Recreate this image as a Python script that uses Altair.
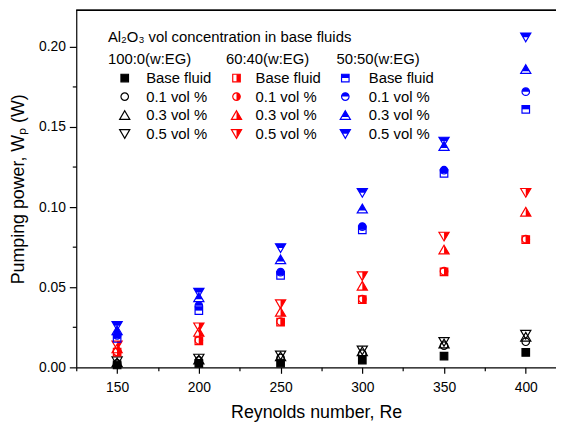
import altair as alt
import pandas as pd

# ---------------- data ----------------
re_values = [150, 200, 250, 300, 350, 400]

w_black_base = [0.0015, 0.0025, 0.0027, 0.0045, 0.0070, 0.0093]
w_black_01 = [0.0025, 0.0043, 0.0059, 0.0086, 0.0136, 0.0160]
w_black_03 = [0.0030, 0.0048, 0.0068, 0.0099, 0.0148, 0.0190]
w_black_05 = [0.0039, 0.0056, 0.0076, 0.0107, 0.0160, 0.0205]

w_red_base = [0.0095, 0.0165, 0.0282, 0.0422, 0.0596, 0.0797]
w_red_01 = [0.0097, 0.0169, 0.0286, 0.0426, 0.0600, 0.0800]
w_red_03 = [0.0117, 0.0220, 0.0345, 0.0508, 0.0734, 0.0970]
w_red_05 = [0.0138, 0.0251, 0.0395, 0.0570, 0.0817, 0.1090]

w_blue_base = [0.0180, 0.0354, 0.0574, 0.0858, 0.1210, 0.1610]
w_blue_01 = [0.0200, 0.0385, 0.0594, 0.0878, 0.1230, 0.1720]
w_blue_03 = [0.0230, 0.0436, 0.0673, 0.0990, 0.1380, 0.1860]
w_blue_05 = [0.0260, 0.0467, 0.0745, 0.1090, 0.1410, 0.2060]

x_major = [150, 200, 250, 300, 350, 400]
x_minor = [125, 175, 225, 275, 325, 375]
y_major = [0.0, 0.05, 0.10, 0.15, 0.20]
y_minor = [0.025, 0.075, 0.125, 0.175]

legend_header = "Al\u2082O\u2083 vol concentration in base fluids"
column_titles = ["100:0(w:EG)", "60:40(w:EG)", "50:50(w:EG)"]
row_labels = ["Base fluid", "0.1 vol %", "0.3 vol %", "0.5 vol %"]

# ---------------- marker shapes (SVG paths in unit box) ----------------
SQ = "M-1,-1L1,-1L1,1L-1,1Z"
CI = "M-1,0A1,1 0 1,1 1,0A1,1 0 1,1 -1,0Z"
TU = "M0,-1.2L1.35,1.1L-1.35,1.1Z"
TD = "M0,1.2L1.35,-1.1L-1.35,-1.1Z"
# right-half fills (red)
SQ_R = "M0,-1L1,-1L1,1L0,1Z"
CI_R = "M0,-1A1,1 0 0,1 0,1Z"
TU_R = "M0,-1.2L1.35,1.1L0,1.1Z"
TD_R = "M0,1.2L1.35,-1.1L0,-1.1Z"
# top-half fills (blue)
SQ_T = "M-1,-1L1,-1L1,0L-1,0Z"
CI_T = "M-1,0A1,1 0 0,1 1,0Z"
TU_T = "M0,-1.2L1,0.5L-1,0.5Z"
TD_T = "M-1.35,-1.1L1.35,-1.1L0.704,0L-0.704,0Z"

BLACK, RED, BLUE = "#000000", "#FF0000", "#0000FF"

# key, values, color, outline, fill, legend column, legend row
series = [
    ("k0", w_black_base, BLACK, SQ, SQ, 0, 0),
    ("k1", w_black_01, BLACK, CI, None, 0, 1),
    ("k2", w_black_03, BLACK, TU, None, 0, 2),
    ("k3", w_black_05, BLACK, TD, None, 0, 3),
    ("r0", w_red_base, RED, SQ, SQ_R, 1, 0),
    ("r1", w_red_01, RED, CI, CI_R, 1, 1),
    ("r2", w_red_03, RED, TU, TU_R, 1, 2),
    ("r3", w_red_05, RED, TD, TD_R, 1, 3),
    ("b0", w_blue_base, BLUE, SQ, SQ_T, 2, 0),
    ("b1", w_blue_01, BLUE, CI, CI_T, 2, 1),
    ("b2", w_blue_03, BLUE, TU, TU_T, 2, 2),
    ("b3", w_blue_05, BLUE, TD, TD_T, 2, 3),
]

keys = [s[0] for s in series]
colors = [s[2] for s in series]
outlines = [s[3] for s in series]
fill_series = [s for s in series if s[4] is not None]
fill_keys = [s[0] for s in fill_series]
fill_paths = [s[4] for s in fill_series]
fill_colors = [s[2] for s in fill_series]

rows = []
for key, vals, col, o, f, c, r in series:
    for re_v, w in zip(re_values, vals):
        rows.append({"key": key, "Re": re_v, "W": w, "hasfill": f is not None})
df = pd.DataFrame(rows)
df_fill = df[df["hasfill"]]

# ---------------- layout constants (pixels within plot area) ----------------
W, H = 485, 361
X_DOM = [125, 418.5]
Y_DOM = [0, 0.2228]
FONT = "Liberation Sans, Arial, Helvetica, sans-serif"

LEG_MARK_X = [49, 162, 272]
LEG_TEXT_X = [70.7, 181.3, 295.7]
LEG_HEAD_X = [32, 151.3, 263]
ROW0, ROW_STEP, MARK_DY = 73.7, 18.8, 5.2

leg_rows = []
for key, vals, col, o, f, c, r in series:
    base = ROW0 + ROW_STEP * r
    leg_rows.append({"key": key, "mx": LEG_MARK_X[c], "my": base - MARK_DY,
                     "tx": LEG_TEXT_X[c], "ty": base, "label": row_labels[r],
                     "hasfill": f is not None})
leg = pd.DataFrame(leg_rows)
leg_fill = leg[leg["hasfill"]]

head_rows = [{"tx": LEG_HEAD_X[0], "ty": 32, "label": legend_header}]
for i, t in enumerate(column_titles):
    head_rows.append({"tx": LEG_HEAD_X[i], "ty": 54.7, "label": t})
heads = pd.DataFrame(head_rows)

xs = alt.Scale(domain=X_DOM, nice=False, zero=False)
ys = alt.Scale(domain=Y_DOM, nice=False, zero=False)
lxs = alt.Scale(domain=[0, W], nice=False, zero=False)
lys = alt.Scale(domain=[0, H], nice=False, zero=False, reverse=True)

common_axis = dict(grid=False, domainColor="black", tickColor="black",
                   labelColor="black", titleColor="black", labelFont=FONT,
                   titleFont=FONT, labelFontSize=14, titleFontSize=18,
                   titleFontWeight="normal", tickWidth=1.2, domainWidth=1.2,
                   labelFlush=False)

x_axis = alt.Axis(values=x_major, tickSize=6, labelPadding=7, titlePadding=10,
                  title="Reynolds number, Re", orient="bottom", **common_axis)
y_axis = alt.Axis(values=y_major, format=".2f", tickSize=7, labelPadding=4,
                  titlePadding=11, title="Pumping power, W\u209a (W)",
                  orient="left", **common_axis)
x_axis_minor = alt.Axis(values=x_minor, tickSize=3.5, labels=False, domain=False,
                        title=None, orient="bottom", grid=False,
                        tickColor="black", tickWidth=1.2)
y_axis_minor = alt.Axis(values=y_minor, tickSize=4, labels=False, domain=False,
                        title=None, orient="left", grid=False,
                        tickColor="black", tickWidth=1.2)

MSIZE = 58

fill_layer = alt.Chart(df_fill).mark_point(filled=True, size=MSIZE, strokeWidth=0, opacity=1).encode(
    x=alt.X("Re:Q", scale=xs, axis=x_axis_minor),
    y=alt.Y("W:Q", scale=ys, axis=y_axis_minor),
    shape=alt.Shape("key:N", scale=alt.Scale(domain=fill_keys, range=fill_paths), legend=None),
    color=alt.Color("key:N", scale=alt.Scale(domain=fill_keys, range=fill_colors), legend=None),
)

outline_layer = alt.Chart(df).mark_point(filled=False, size=MSIZE, strokeWidth=1.2, opacity=1).encode(
    x=alt.X("Re:Q", scale=xs, axis=x_axis),
    y=alt.Y("W:Q", scale=ys, axis=y_axis),
    shape=alt.Shape("key:N", scale=alt.Scale(domain=keys, range=outlines), legend=None),
    color=alt.Color("key:N", scale=alt.Scale(domain=keys, range=colors), legend=None),
)

leg_fill_layer = alt.Chart(leg_fill).mark_point(filled=True, size=MSIZE, strokeWidth=0, opacity=1).encode(
    x=alt.X("mx:Q", scale=lxs, axis=None),
    y=alt.Y("my:Q", scale=lys, axis=None),
    shape=alt.Shape("key:N", scale=alt.Scale(domain=fill_keys, range=fill_paths), legend=None),
    color=alt.Color("key:N", scale=alt.Scale(domain=fill_keys, range=fill_colors), legend=None),
)

leg_outline_layer = alt.Chart(leg).mark_point(filled=False, size=MSIZE, strokeWidth=1.2, opacity=1).encode(
    x=alt.X("mx:Q", scale=lxs, axis=None),
    y=alt.Y("my:Q", scale=lys, axis=None),
    shape=alt.Shape("key:N", scale=alt.Scale(domain=keys, range=outlines), legend=None),
    color=alt.Color("key:N", scale=alt.Scale(domain=keys, range=colors), legend=None),
)

leg_text_layer = alt.Chart(leg).mark_text(align="left", baseline="alphabetic", fontSize=15,
                                          font=FONT, color="black").encode(
    x=alt.X("tx:Q", scale=lxs, axis=None),
    y=alt.Y("ty:Q", scale=lys, axis=None),
    text="label:N",
)

head_layer = alt.Chart(heads).mark_text(align="left", baseline="alphabetic", fontSize=15,
                                        font=FONT, color="black").encode(
    x=alt.X("tx:Q", scale=lxs, axis=None),
    y=alt.Y("ty:Q", scale=lys, axis=None),
    text="label:N",
)

top_border = alt.Chart(heads).mark_rule(color="black", strokeWidth=1.2).encode(
    x=alt.value(0), x2=alt.value(W), y=alt.value(0)
)

chart = alt.layer(
    fill_layer, outline_layer, leg_fill_layer, leg_outline_layer,
    leg_text_layer, head_layer, top_border
).resolve_scale(
    x="independent", y="independent", shape="independent", color="independent"
).resolve_axis(
    x="independent", y="independent"
).properties(
    width=W, height=H,
    autosize=alt.AutoSizeParams(type="none"),
    padding={"left": 69, "top": 0, "right": 0, "bottom": 58},
    background="white",
).configure_view(stroke="transparent")

chart.save("out.html", embed_options={"renderer": "svg", "actions": False})
